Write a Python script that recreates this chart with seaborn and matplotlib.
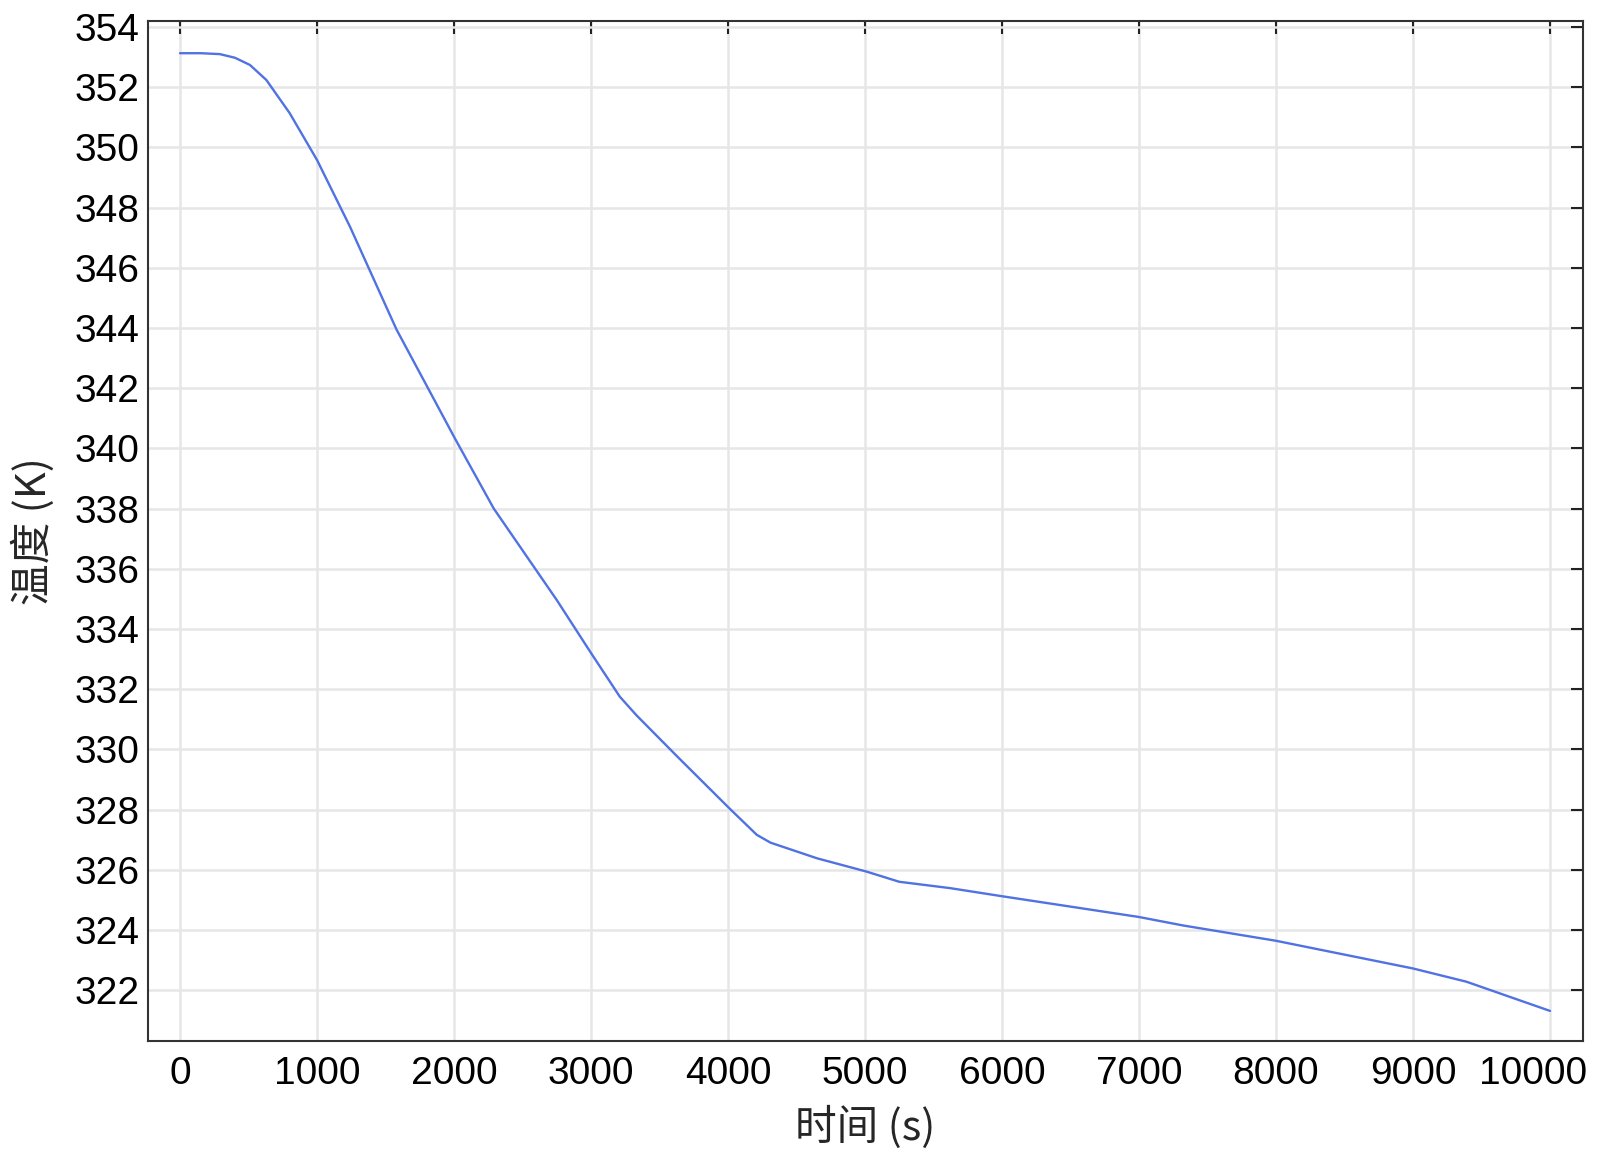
import matplotlib
matplotlib.use("Agg")
import matplotlib.pyplot as plt
import matplotlib.transforms as mtransforms
import seaborn as sns
import pandas as pd

# Data
time_s = [0, 150, 290, 400, 510, 630, 800, 1000, 1240, 1580, 1810, 2010, 2290,
          2750, 3000, 3210, 3330, 3630, 4010, 4210, 4310, 4650, 5010, 5250,
          5620, 6000, 7000, 7320, 8000, 9000, 9390, 10000]
temperature_K = [353.13, 353.13, 353.10, 352.98, 352.74, 352.24, 351.14, 349.58,
                 347.37, 343.95, 342.00, 340.30, 338.00, 334.96, 333.20, 331.75,
                 331.14, 329.76, 328.04, 327.16, 326.90, 326.38, 325.94, 325.60,
                 325.39, 325.12, 324.43, 324.15, 323.64, 322.72, 322.28, 321.31]
x_ticks = list(range(0, 10001, 1000))
y_ticks = list(range(322, 355, 2))
x_label = "时间 (s)"
y_label = "温度 (K)"

df = pd.DataFrame({"t": time_s, "T": temperature_K})

sns.set_theme(style="white")
plt.rcParams['font.family'] = ['Liberation Sans', 'Noto Sans CJK SC', 'DejaVu Sans']

fig = plt.figure(figsize=(16, 11.67), dpi=100)
ax = fig.add_axes([148/1600, 1 - 1041/1167, (1583 - 148)/1600, (1041 - 21)/1167])

sns.lineplot(data=df, x="t", y="T", ax=ax, color="#5072E2", linewidth=1.7)

ax.set_xlim(-234, 10241)
ax.set_ylim(320.31, 354.2)
ax.set_xticks(x_ticks)
ax.set_yticks(y_ticks)
ax.grid(True, color="#e6e6e6", linewidth=1.8)
ax.set_axisbelow(True)

for s in ax.spines.values():
    s.set_visible(True)
    s.set_color("#333333")
    s.set_linewidth(1.5)

ax.tick_params(axis="both", which="major", direction="in", length=9,
               width=1.5, color="#222222", labelsize=28,
               top=True, right=True, labelcolor="black")
ax.tick_params(axis="y", pad=6)
ax.tick_params(axis="x", pad=11)

# shift the last x tick label left so it stays inside the figure
last = ax.get_xticklabels()[-1]
last.set_transform(last.get_transform() +
                   mtransforms.ScaledTranslation(-0.17, 0, fig.dpi_scale_trans))

ax.set_xlabel(x_label, fontsize=30, labelpad=10,
              family=['Noto Sans CJK SC', 'Liberation Sans'])
ax.set_ylabel(y_label, fontsize=30, labelpad=14,
              family=['Noto Sans CJK SC', 'Liberation Sans'])

fig.savefig("out.png", dpi=100)
